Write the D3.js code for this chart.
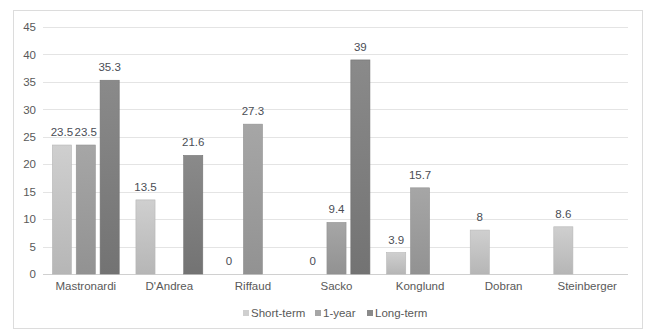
<!DOCTYPE html>
<html>
<head>
<meta charset="utf-8">
<script src="https://cdn.jsdelivr.net/npm/d3@7"></script>
<style>
  html, body { margin: 0; padding: 0; background: #fff; }
  svg { display: block; font-family: "Liberation Sans", Arial, sans-serif; }
</style>
</head>
<body>
<svg id="chart" width="646" height="330"></svg>
<script>
// Surgeons on the x axis, outcome horizon as grouped series
const categories = ["Mastronardi", "D'Andrea", "Riffaud", "Sacko", "Konglund", "Dobran", "Steinberger"];
const seriesNames = ["Short-term", "1-year", "Long-term"];
const shortTerm = [23.5, 13.5, 0, 0, 3.9, 8, 8.6];
const oneYear   = [23.5, null, 27.3, 9.4, 15.7, null, null];
const longTerm  = [35.3, 21.6, null, 39, null, null, null];
const yTicks = [0, 5, 10, 15, 20, 25, 30, 35, 40, 45];

const seriesValues = [shortTerm, oneYear, longTerm];
const colorTop = ["#cfcfcf", "#a6a6a6", "#8a8a8a"];
const colorBottom = ["#b6b6b6", "#929292", "#737373"];

const svg = d3.select("#chart");

// outer frame
svg.append("rect")
  .attr("x", 13.5).attr("y", 10.5)
  .attr("width", 629).attr("height", 318)
  .attr("fill", "#fff").attr("stroke", "#dcdcdc");

const defs = svg.append("defs");
seriesNames.forEach((s, i) => {
  const g = defs.append("linearGradient")
    .attr("id", "grad" + i)
    .attr("x1", 0).attr("y1", 0).attr("x2", 0).attr("y2", 1);
  g.append("stop").attr("offset", "0%").attr("stop-color", colorTop[i]);
  g.append("stop").attr("offset", "100%").attr("stop-color", colorBottom[i]);
});

const plotLeft = 44, plotRight = 629, plotTop = 27, plotBottom = 274;

const y = d3.scaleLinear().domain([0, 45]).range([plotBottom, plotTop]);
const x0 = d3.scaleBand().domain(categories).range([plotLeft, plotRight])
  .paddingInner(0.2).paddingOuter(0.1);
const x1 = d3.scaleBand().domain(seriesNames).range([0, x0.bandwidth()])
  .paddingInner(0.2).paddingOuter(0);

// gridlines
svg.append("g")
  .selectAll("line")
  .data(yTicks)
  .join("line")
  .attr("x1", plotLeft - 1).attr("x2", plotRight - 1)
  .attr("y1", d => Math.round(y(d)) + 0.5)
  .attr("y2", d => Math.round(y(d)) + 0.5)
  .attr("stroke", d => d === 0 ? "#d0d0d0" : "#e4e4e4")
  .attr("stroke-width", 1);

// y axis labels
const yAxis = d3.axisLeft(y).tickValues(yTicks).tickSize(0).tickPadding(0);
const gy = svg.append("g").attr("transform", `translate(36,0)`).call(yAxis);
gy.select(".domain").remove();
gy.selectAll("text")
  .attr("fill", "#595959")
  .style("font-size", "11.5px")
  .style("font-family", "Liberation Sans, Arial, sans-serif");

// x axis labels
const xAxis = d3.axisBottom(x0).tickSize(0).tickPadding(0);
const gx = svg.append("g").attr("transform", `translate(0,${plotBottom + 8})`).call(xAxis);
gx.select(".domain").remove();
gx.selectAll("text")
  .attr("fill", "#595959")
  .style("font-size", "11.5px")
  .style("font-family", "Liberation Sans, Arial, sans-serif");

// bars
const rows = [];
categories.forEach((c, ci) => {
  seriesNames.forEach((s, si) => {
    const v = seriesValues[si][ci];
    if (v !== null) rows.push({ cat: c, series: s, si, value: v });
  });
});

svg.append("g")
  .selectAll("rect")
  .data(rows.filter(d => d.value > 0))
  .join("rect")
  .attr("x", d => x0(d.cat) + x1(d.series))
  .attr("y", d => y(d.value))
  .attr("width", x1.bandwidth())
  .attr("height", d => y(0) - y(d.value))
  .attr("fill", d => `url(#grad${d.si})`)
  .attr("stroke", d => colorBottom[d.si])
  .attr("stroke-width", 0.6);

// value labels
svg.append("g")
  .selectAll("text")
  .data(rows)
  .join("text")
  .attr("x", d => x0(d.cat) + x1(d.series) + x1.bandwidth() / 2)
  .attr("y", d => y(d.value) - 9)
  .attr("text-anchor", "middle")
  .attr("fill", "#4a4d55")
  .style("font-size", "11.5px")
  .text(d => d.value);

// legend
const legendX = [243, 315, 367];
const legend = svg.append("g");
seriesNames.forEach((s, i) => {
  legend.append("rect")
    .attr("x", legendX[i]).attr("y", 310)
    .attr("width", 6).attr("height", 6)
    .attr("fill", colorTop[i]);
  legend.append("text")
    .attr("x", legendX[i] + 8).attr("y", 317)
    .attr("fill", "#595959")
    .style("font-size", "11.5px")
    .text(s);
});
</script>
</body>
</html>
